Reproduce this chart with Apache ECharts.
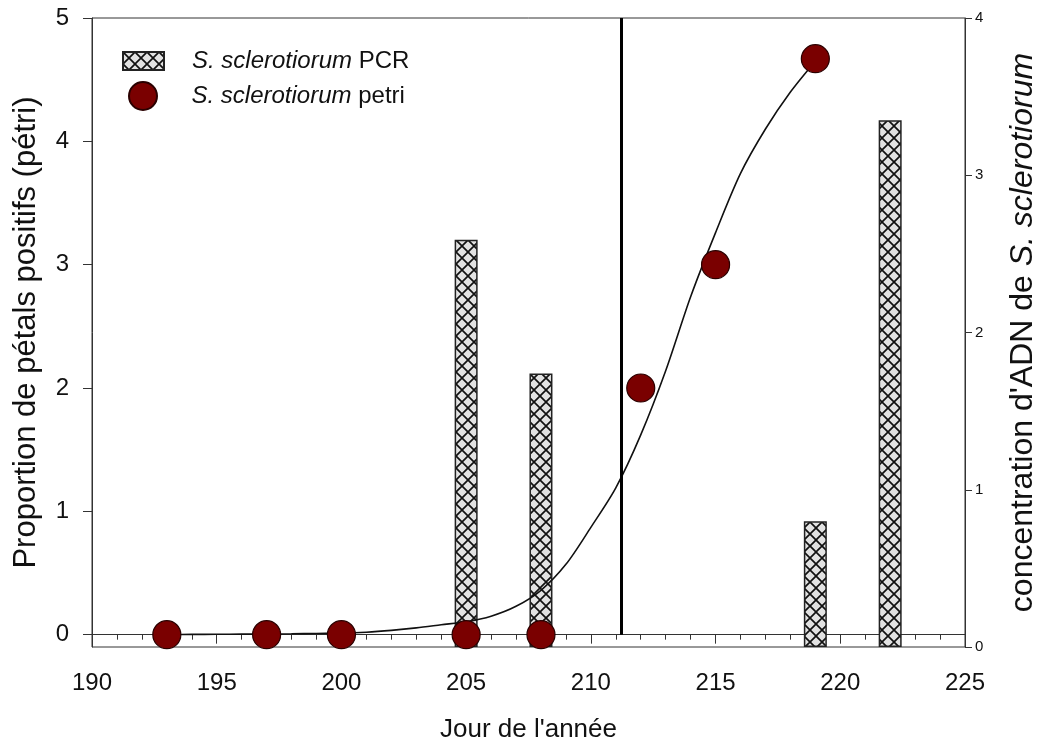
<!DOCTYPE html>
<html>
<head>
<meta charset="utf-8">
<script src="https://cdn.jsdelivr.net/npm/echarts@6/dist/echarts.min.js"></script>
<style>
html,body{margin:0;padding:0;background:#fff;}
#chart{width:1041px;height:747px;}
</style>
</head>
<body>
<div id="chart"></div>
<script>
// ---- data ----
const petriDays   = [193, 197, 200, 205, 208, 212, 215, 219];
const petriValues = [0, 0, 0, 0, 0, 2, 3, 4.67];

const pcrDays   = [205, 208, 219, 222];
const pcrValues = [2.59, 1.74, 0.80, 3.35];

const curveDays   = [193, 194, 195, 196, 197, 198, 199, 200, 201, 202, 203, 204, 205, 206, 207, 208, 209, 210, 211, 212, 213, 214, 215, 216, 217, 218, 219];
const curveValues = [0.0, 0.002, 0.003, 0.004, 0.005, 0.007, 0.01, 0.012, 0.02, 0.035, 0.055, 0.08, 0.105, 0.15, 0.23, 0.36, 0.57, 0.87, 1.19, 1.62, 2.14, 2.74, 3.26, 3.74, 4.10, 4.40, 4.65];

const thresholdDay = 211.2;

const leftTicks  = [0, 1, 2, 3, 4, 5];
const rightTicks = [0, 1, 2, 3, 4];

const legendPCR   = 'S. sclerotiorum PCR';
const legendPetri = 'S. sclerotiorum petri';

// ---- hatch pattern ----
function hatch() {
  const c = document.createElement('canvas');
  c.width = 12; c.height = 12;
  const g = c.getContext('2d');
  g.fillStyle = '#e2e2e2';
  g.fillRect(0, 0, 12, 12);
  g.strokeStyle = '#111';
  g.lineWidth = 1.7;
  g.beginPath();
  g.moveTo(-1, -1); g.lineTo(13, 13);
  g.moveTo(13, -1); g.lineTo(-1, 13);
  g.stroke();
  return c;
}

const chart = echarts.init(document.getElementById('chart'), null, {renderer: 'canvas'});
const FONT = '"Liberation Sans", Arial, sans-serif';

const legendFormatter = function (name) {
  const parts = name.split(' ');
  return '{i|' + parts[0] + ' ' + parts[1] + '}{n| ' + parts[2] + '}';
};
const legendRich = {
  i: {fontStyle: 'italic', fontSize: 24, fontFamily: FONT, color: '#111'},
  n: {fontSize: 24, fontFamily: FONT, color: '#111'}
};

chart.setOption({
  animation: false,
  backgroundColor: '#fff',
  grid: {left: 92, right: 76, top: 18, bottom: 100, containLabel: false, outerBoundsMode: 'none',
         show: true, borderColor: '#333', borderWidth: 1, backgroundColor: 'transparent'},
  legend: [
    {
      data: [{name: legendPCR, icon: 'rect'}], orient: 'vertical', left: 117, top: 44,
      itemWidth: 41, itemHeight: 18, formatter: legendFormatter,
      textStyle: {rich: legendRich, padding: [0, 0, 0, 23]}
    },
    {
      data: [legendPetri], orient: 'vertical', left: 123, top: 76,
      itemWidth: 41, itemHeight: 28, formatter: legendFormatter,
      textStyle: {rich: legendRich, padding: [0, 0, 0, 23]}
    }
  ],
  xAxis: {
    type: 'value', min: 190, max: 225, interval: 5,
    name: "Jour de l'année", nameLocation: 'middle', nameGap: 70,
    nameTextStyle: {fontSize: 26, fontFamily: FONT, color: '#111'},
    axisLine: {lineStyle: {color: '#333', width: 1}},
    axisTick: {show: true, length: 9, lineStyle: {color: '#333'}},
    minorTick: {show: true, splitNumber: 5, length: 5, lineStyle: {color: '#333'}},
    splitLine: {show: false},
    axisLabel: {fontSize: 24, fontFamily: FONT, color: '#111', margin: 24}
  },
  yAxis: [
    {
      type: 'value', min: -0.1, max: 5, position: 'left',
      name: 'Proportion de pétals positifs (pétri)', nameLocation: 'middle', nameGap: 50,
      nameTextStyle: {fontSize: 31, fontFamily: FONT, color: '#111'},
      axisLine: {show: true, lineStyle: {color: '#333'}},
      axisTick: {show: true, length: 9, customValues: leftTicks, lineStyle: {color: '#333'}},
      axisLabel: {fontSize: 24, fontFamily: FONT, color: '#111', margin: 23, customValues: leftTicks},
      splitLine: {show: false}
    },
    {
      type: 'value', min: 0, max: 4, interval: 1, position: 'right',
      name: "{n|concentration d'ADN de }{i|S. sclerotiorum}", nameLocation: 'middle', nameGap: 42, nameRotate: 90,
      nameTextStyle: {
        fontSize: 32, fontFamily: FONT, color: '#111',
        rich: {
          n: {fontSize: 32, fontFamily: FONT, color: '#111'},
          i: {fontSize: 32, fontFamily: FONT, color: '#111', fontStyle: 'italic'}
        }
      },
      axisLine: {show: true, lineStyle: {color: '#333'}},
      axisTick: {show: true, length: 7, lineStyle: {color: '#333'}},
      axisLabel: {fontSize: 15, fontFamily: FONT, color: '#111', margin: 10, customValues: rightTicks},
      splitLine: {show: false}
    }
  ],
  series: [
    {
      name: legendPCR, type: 'bar', yAxisIndex: 1, barWidth: 23,
      data: pcrDays.map((d, i) => [d, pcrValues[i]]),
      itemStyle: {color: {image: hatch(), repeat: 'repeat'}, borderColor: '#222', borderWidth: 1.5},
      z: 2
    },
    {
      name: 'fit', type: 'line', yAxisIndex: 0, smooth: 0.3,
      showSymbol: false, symbol: 'none',
      data: curveDays.map((d, i) => [d, curveValues[i]]),
      lineStyle: {color: '#111', width: 1.6},
      z: 3,
      markLine: {
        silent: true, symbol: ['none', 'none'], label: {show: false},
        lineStyle: {color: '#000', width: 3, type: 'solid'},
        data: [[{coord: [thresholdDay, 0]}, {coord: [thresholdDay, 5]}]]
      }
    },
    {
      name: legendPetri, type: 'scatter', yAxisIndex: 0, symbol: 'circle', symbolSize: 28,
      data: petriDays.map((d, i) => [d, petriValues[i]]),
      itemStyle: {color: '#7a0000', borderColor: '#2a0000', borderWidth: 1.2, opacity: 1},
      z: 4
    }
  ]
});
</script>
</body>
</html>
